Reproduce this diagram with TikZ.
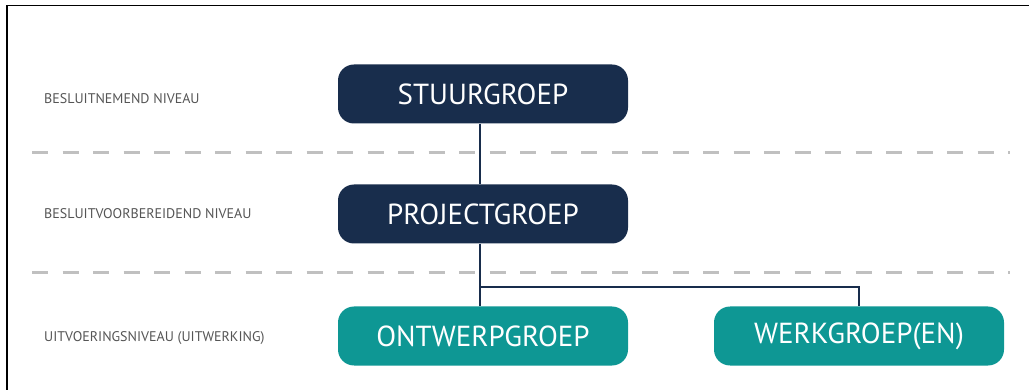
\documentclass[tikz,border=0pt]{standalone}
\usepackage{fontspec}
\setmainfont{PT Sans}
\usepackage{tikz}
\definecolor{navy}{RGB}{24,45,76}
\definecolor{groepteal}{RGB}{14,151,148}
\definecolor{dashgrey}{RGB}{192,192,192}
\definecolor{labelgrey}{RGB}{85,85,85}

\begin{document}
\begin{tikzpicture}[x=1pt,y=-1pt,
  groep/.style={rounded corners=16pt,minimum width=290pt,minimum height=59pt,inner sep=0pt,text=white,font=\fontsize{29}{30}\selectfont},
  niveau/.style={anchor=west,inner sep=0pt,text=labelgrey,font=\fontsize{14}{15}\selectfont},
  lijn/.style={draw=navy,line width=2.8pt},
  scheiding/.style={draw=dashgrey,line width=3pt,dash pattern=on 16pt off 14.5pt}]
\useasboundingbox (0,0) rectangle (1029,390);
\draw[line width=1.5pt] (7,390) -- (7,5.5) -- (1029,5.5);

\draw[scheiding] (32,153) -- (1010,153);
\draw[scheiding] (32,273) -- (1010,273);

\node[niveau] (nemend) at (44,99) {BESLUITNEMEND NIVEAU};
\node[niveau] (voorbereidend) at (44,214) {BESLUITVOORBEREIDEND NIVEAU};
\node[niveau] (uitvoering) at (44,338) {UITVOERINGSNIVEAU (UITWERKING)};

\node[groep,fill=navy] (stuur) at (483,94) {STUURGROEP};
\node[groep,fill=navy] (project) at (483,214) {PROJECTGROEP};
\node[groep,fill=groepteal] (ontwerp) at (483,336) {ONTWERPGROEP};
\node[groep,fill=groepteal] (werk) at (859,336) {WERKGROEP(EN)};

\coordinate (knik) at (480,287);
\draw[lijn] (stuur.south -| knik) -- (project.north -| knik);
\draw[lijn] (project.south -| knik) -- (ontwerp.north -| knik);
\draw[lijn] (knik) -| (werk.north);
\end{tikzpicture}
\end{document}
